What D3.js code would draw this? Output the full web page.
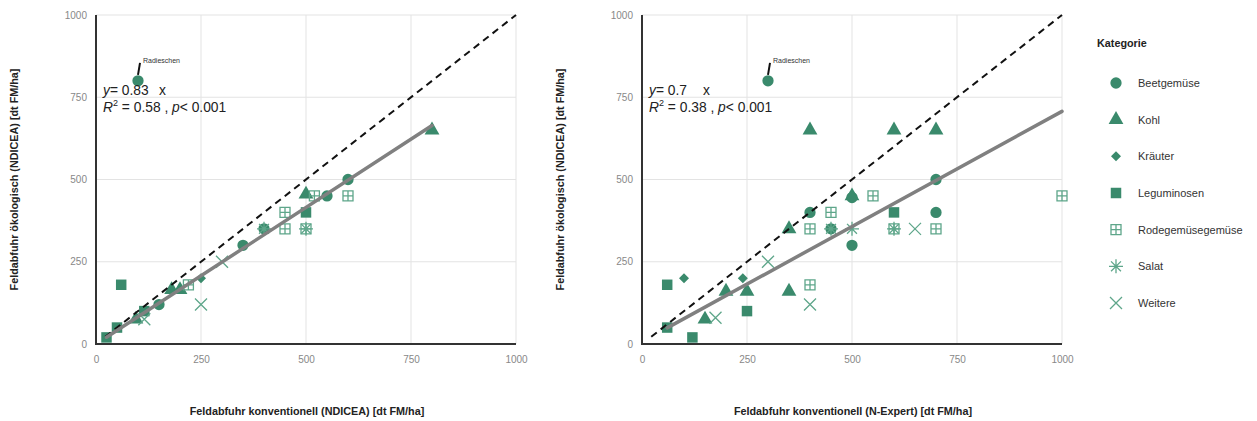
<!DOCTYPE html>
<html>
<head>
<meta charset="utf-8">
<script src="https://cdn.jsdelivr.net/npm/d3@7"></script>
<style>
  body { margin: 0; background: #fff; }
  svg { font-family: "Liberation Sans", Arial, sans-serif; }
</style>
</head>
<body>
<svg id="target" width="1257" height="421"></svg>
<script>
// Categories shown in the legend
const categories = ["Beetgemüse", "Kohl", "Kräuter", "Leguminosen", "Rodegemüsegemüse", "Salat", "Weitere"];
const ticks = [0, 250, 500, 750, 1000];

// Points of left panel: [category, conventional, ecological]
const ndiceaPoints = [
    ["Leguminosen", 25, 20], ["Leguminosen", 50, 50], ["Leguminosen", 60, 180],
    ["Leguminosen", 115, 100], ["Leguminosen", 500, 400],
    ["Beetgemüse", 100, 800], ["Beetgemüse", 150, 120], ["Beetgemüse", 350, 300],
    ["Beetgemüse", 400, 350], ["Beetgemüse", 550, 450], ["Beetgemüse", 600, 500],
    ["Kohl", 95, 75], ["Kohl", 180, 165], ["Kohl", 200, 165], ["Kohl", 500, 455], ["Kohl", 800, 650],
    ["Kräuter", 250, 200],
    ["Rodegemüsegemüse", 220, 180], ["Rodegemüsegemüse", 450, 400], ["Rodegemüsegemüse", 450, 350],
    ["Rodegemüsegemüse", 500, 350], ["Rodegemüsegemüse", 520, 450], ["Rodegemüsegemüse", 600, 450],
    ["Salat", 400, 350], ["Salat", 500, 350],
    ["Weitere", 115, 75], ["Weitere", 250, 120], ["Weitere", 300, 250]
];

// Points of right panel
const expertPoints = [
    ["Leguminosen", 60, 180], ["Leguminosen", 60, 50], ["Leguminosen", 120, 20],
    ["Leguminosen", 250, 100], ["Leguminosen", 600, 400],
    ["Beetgemüse", 300, 800], ["Beetgemüse", 400, 400], ["Beetgemüse", 450, 350],
    ["Beetgemüse", 500, 300], ["Beetgemüse", 500, 445], ["Beetgemüse", 700, 500], ["Beetgemüse", 700, 400],
    ["Kohl", 150, 75], ["Kohl", 200, 160], ["Kohl", 250, 160], ["Kohl", 350, 160], ["Kohl", 350, 350],
    ["Kohl", 400, 650], ["Kohl", 500, 450], ["Kohl", 600, 650], ["Kohl", 700, 650],
    ["Kräuter", 100, 200], ["Kräuter", 240, 200],
    ["Rodegemüsegemüse", 400, 350], ["Rodegemüsegemüse", 400, 180], ["Rodegemüsegemüse", 450, 400],
    ["Rodegemüsegemüse", 550, 450], ["Rodegemüsegemüse", 600, 350], ["Rodegemüsegemüse", 700, 350],
    ["Rodegemüsegemüse", 1000, 450],
    ["Salat", 450, 350], ["Salat", 500, 350], ["Salat", 600, 350],
    ["Weitere", 175, 80], ["Weitere", 300, 250], ["Weitere", 400, 120], ["Weitere", 650, 350]
];

// Regression fits: slope, intercept, x range ; 1:1 line range
const fits = [
    {slope: 0.83, intercept: 0, from: 25, to: 800, eq: "0.83", r2: "0.58"},
    {slope: 0.70, intercept: 7, from: 60, to: 1000, eq: "0.7", r2: "0.38"}
];
const identityRange = [[22, 1000], [22, 1000]];
const outlier = [["Radieschen", 100, 800], ["Radieschen", 300, 800]];

const xLabels = ["Feldabfuhr konventionell (NDICEA) [dt FM/ha]", "Feldabfuhr konventionell (N-Expert) [dt FM/ha]"];
const yLabels = ["Feldabfuhr ökologisch (NDICEA) [dt FM/ha]", "Feldabfuhr ökologisch (NDICEA) [dt FM/ha]"];

const green = "#3a8a6c", light = "#5ea68a";
const svg = d3.select("#target");

// Symbol for a category, drawn at origin
function symbolPath(cat) {
    switch (cat) {
        case "Beetgemüse": return d3.symbol(d3.symbolCircle, 100)();
        case "Kohl": return d3.symbol(d3.symbolTriangle, 95)();
        case "Kräuter": {
            let r = 5;
            return `M0,${-r}L${r},0L0,${r}L${-r},0Z`;
        }
        case "Leguminosen": return d3.symbol(d3.symbolSquare, 110)();
        case "Rodegemüsegemüse": {
            let h = 5;
            return `M${-h},${-h}H${h}V${h}H${-h}ZM0,${-h}V${h}M${-h},0H${h}`;
        }
        case "Salat": {
            let r = 7, d = r * 0.7071;
            return `M${-r},0H${r}M0,${-r}V${r}M${-d},${-d}L${d},${d}M${-d},${d}L${d},${-d}`;
        }
        default: {
            let r = 6;
            return `M${-r},${-r}L${r},${r}M${-r},${r}L${r},${-r}`;
        }
    }
}
function styleSymbol(sel, cat) {
    if (cat === "Rodegemüsegemüse" || cat === "Salat" || cat === "Weitere") {
        sel.attr("fill", "none").attr("stroke", light).attr("stroke-width", 1.3);
    } else {
        sel.attr("fill", green).attr("stroke", "none");
    }
}

const panels = [
    {left: 96, points: ndiceaPoints},
    {left: 642, points: expertPoints}
];
const plotTop = 15, plotH = 329, plotW = 420;

panels.forEach((p, i) => {
    let x = d3.scaleLinear().domain([0, 1000]).range([p.left, p.left + plotW]);
    let y = d3.scaleLinear().domain([0, 1000]).range([plotTop + plotH, plotTop]);
    let g = svg.append("g");

    // Grid
    g.selectAll(".gx").data(ticks.slice(1)).enter().append("line")
        .attr("x1", d => x(d)).attr("x2", d => x(d))
        .attr("y1", plotTop).attr("y2", plotTop + plotH)
        .attr("stroke", "#e3e3e3").attr("stroke-width", 1);
    g.selectAll(".gy").data(ticks.slice(1)).enter().append("line")
        .attr("y1", d => y(d)).attr("y2", d => y(d))
        .attr("x1", p.left).attr("x2", p.left + plotW)
        .attr("stroke", "#e3e3e3").attr("stroke-width", 1);

    // Axes
    let fmt = d3.format("d");
    let xa = g.append("g").attr("transform", "translate(0," + (plotTop + plotH) + ")")
        .call(d3.axisBottom(x).tickValues(ticks).tickFormat(fmt).tickSize(0).tickPadding(12));
    let ya = g.append("g").attr("transform", "translate(" + p.left + ",0)")
        .call(d3.axisLeft(y).tickValues(ticks).tickFormat(fmt).tickSize(0).tickPadding(9));
    [xa, ya].forEach(a => {
        a.select(".domain").remove();
        a.selectAll("text").attr("fill", "#888").attr("font-size", 10)
            .attr("font-family", "Liberation Sans, Arial, sans-serif");
    });
    g.append("line").attr("x1", p.left).attr("x2", p.left)
        .attr("y1", plotTop).attr("y2", plotTop + plotH + 1)
        .attr("stroke", "#333").attr("stroke-width", 2);
    g.append("line").attr("x1", p.left - 1).attr("x2", p.left + plotW)
        .attr("y1", plotTop + plotH).attr("y2", plotTop + plotH)
        .attr("stroke", "#333").attr("stroke-width", 2);

    // Axis titles
    g.append("text").attr("x", p.left + plotW / 2 + 1).attr("y", 415)
        .attr("text-anchor", "middle").attr("font-size", 10.8).attr("font-weight", "bold")
        .attr("fill", "#222").text(xLabels[i]);
    g.append("text").attr("transform", "translate(" + (p.left - 78) + "," + (plotTop + plotH / 2) + ") rotate(-90)")
        .attr("text-anchor", "middle").attr("font-size", 10.8).attr("font-weight", "bold")
        .attr("fill", "#222").text(yLabels[i]);

    // Points
    g.selectAll(".pt").data(p.points).enter().append("path")
        .attr("transform", d => "translate(" + x(d[1]) + "," + y(d[2]) + ")")
        .attr("d", d => symbolPath(d[0]))
        .each(function (d) { styleSymbol(d3.select(this), d[0]); });

    // 1:1 line and regression
    let idr = identityRange[i];
    g.append("line").attr("x1", x(idr[0])).attr("y1", y(idr[0]))
        .attr("x2", x(idr[1])).attr("y2", y(idr[1]))
        .attr("stroke", "#111").attr("stroke-width", 2).attr("stroke-dasharray", "7,5");
    let f = fits[i];
    g.append("line").attr("x1", x(f.from)).attr("y1", y(f.slope * f.from + f.intercept))
        .attr("x2", x(f.to)).attr("y2", y(f.slope * f.to + f.intercept))
        .attr("stroke", "#808080").attr("stroke-width", 3.5).attr("stroke-linecap", "round");

    // Equation
    let eq = g.append("text").attr("x", p.left + 7).attr("y", 95).attr("font-size", 13.8).attr("fill", "#222");
    eq.append("tspan").attr("font-style", "italic").text("y");
    eq.append("tspan").text("= " + f.eq);
    eq.append("tspan").attr("x", p.left + (i === 0 ? 63 : 61)).text("x");
    let r2 = g.append("text").attr("x", p.left + 7).attr("y", 112).attr("font-size", 13.8).attr("fill", "#222");
    r2.append("tspan").attr("font-style", "italic").text("R");
    r2.append("tspan").attr("font-size", 9).attr("dy", -6).text("2");
    r2.append("tspan").attr("dy", 6).text(" = " + f.r2 + " , ");
    r2.append("tspan").attr("font-style", "italic").text("p");
    r2.append("tspan").text("< 0.001");

    // Outlier label
    let o = outlier[i];
    g.append("line").attr("x1", x(o[1])).attr("y1", y(o[2]) - 6)
        .attr("x2", x(o[1]) + 2).attr("y2", y(o[2]) - 18)
        .attr("stroke", "#111").attr("stroke-width", 2);
    g.append("text").attr("x", x(o[1]) + 5).attr("y", y(o[2]) - 18)
        .attr("font-size", 7).attr("fill", "#333").text(o[0]);
});

// Legend
let lg = svg.append("g");
lg.append("text").attr("x", 1097).attr("y", 47).attr("font-size", 10.8)
    .attr("font-weight", "bold").attr("fill", "#222").text("Kategorie");
let ly = d3.scalePoint().domain(categories).range([83, 303]);
categories.forEach(c => {
    lg.append("path").attr("transform", "translate(1116," + ly(c) + ")")
        .attr("d", symbolPath(c))
        .call(s => styleSymbol(s, c));
    lg.append("text").attr("x", 1138).attr("y", ly(c) + 4).attr("font-size", 11)
        .attr("fill", "#333").text(c);
});
</script>
</body>
</html>
